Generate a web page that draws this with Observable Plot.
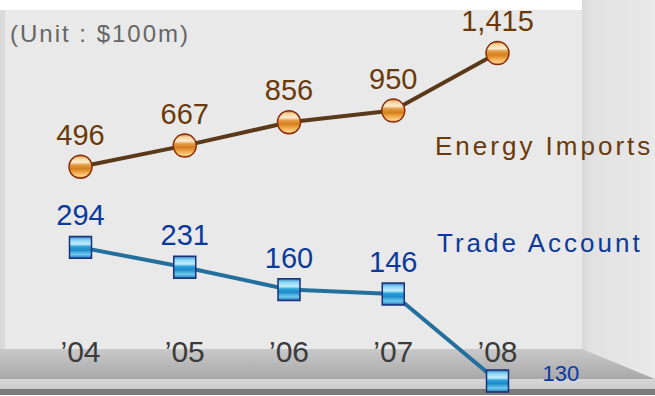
<!DOCTYPE html>
<html>
<head>
<meta charset="utf-8">
<script src="https://cdn.jsdelivr.net/npm/d3@7"></script>
<script src="https://cdn.jsdelivr.net/npm/@observablehq/plot@0.6"></script>
<style>
  body { margin: 0; background: #fff; }
  #chart { position: relative; width: 655px; height: 396px; overflow: hidden;
           font-family: "Liberation Sans", Arial, sans-serif; }
  #chart svg { position: absolute; left: 0; top: 0; }
  .lbl { position: absolute; white-space: nowrap; line-height: 1; }
</style>
</head>
<body>
<div id="chart"></div>
<script>
// ---- data ----
const years = [2004, 2005, 2006, 2007, 2008];
const yearLabels = ["’04", "’05", "’06", "’07", "’08"];
const energyImports = [496, 667, 856, 950, 1415];
const tradeAccount = [294, 231, 160, 146, -130];
const seriesNames = ["Energy Imports", "Trade Account"];
const unitLabel = "(Unit : $100m)";

const energyData = years.map((y, i) => ({year: y, value: energyImports[i]}));
const tradeData = years.map((y, i) => ({year: y, value: tradeAccount[i]}));

const W = 655, H = 396;
const chart = document.getElementById("chart");

// ---- decorative 3D box background + gradient defs ----
chart.innerHTML = `
<svg width="${W}" height="${H}" xmlns="http://www.w3.org/2000/svg">
  <defs>
    <linearGradient id="gOrange" x1="0" y1="0" x2="0" y2="1">
      <stop offset="0" stop-color="#c8701c"/>
      <stop offset="0.12" stop-color="#f6d29a"/>
      <stop offset="0.3" stop-color="#fcecd0"/>
      <stop offset="0.42" stop-color="#e59c45"/>
      <stop offset="0.58" stop-color="#d47e1e"/>
      <stop offset="0.78" stop-color="#f4b255"/>
      <stop offset="0.9" stop-color="#fbd08a"/>
      <stop offset="1" stop-color="#cf7820"/>
    </linearGradient>
    <linearGradient id="gBlue" x1="0" y1="0" x2="0" y2="1">
      <stop offset="0" stop-color="#2a78b8"/>
      <stop offset="0.15" stop-color="#86d2f2"/>
      <stop offset="0.35" stop-color="#c4eefc"/>
      <stop offset="0.47" stop-color="#2aa2da"/>
      <stop offset="0.62" stop-color="#1c8ac8"/>
      <stop offset="0.82" stop-color="#70caee"/>
      <stop offset="1" stop-color="#1a72b2"/>
    </linearGradient>
    <linearGradient id="gFloor" x1="0" y1="0" x2="0" y2="1">
      <stop offset="0" stop-color="#c9c9c9"/>
      <stop offset="1" stop-color="#a8a8a8"/>
    </linearGradient>
    <linearGradient id="gRight" x1="0" y1="0" x2="1" y2="0">
      <stop offset="0" stop-color="#d9d9d9"/>
      <stop offset="0.15" stop-color="#e2e2e2"/>
      <stop offset="1" stop-color="#e9e9e9"/>
    </linearGradient>
    <linearGradient id="gStrip" x1="0" y1="0" x2="0" y2="1">
      <stop offset="0" stop-color="#d6d6d6"/>
      <stop offset="1" stop-color="#cbcbcb"/>
    </linearGradient>
  </defs>
  <rect x="0" y="0" width="${W}" height="${H}" fill="#ffffff"/>
  <rect x="582" y="0" width="73" height="390" fill="url(#gRight)"/>
  <rect x="0" y="10" width="582" height="340" fill="#e9e9e9"/>
  <rect x="0" y="10" width="5" height="340" fill="#dadada"/>
  <polygon points="0,349 582,349 655,379 0,379" fill="url(#gFloor)"/>
  <rect x="0" y="379" width="${W}" height="10" fill="url(#gStrip)"/>
  <rect x="0" y="389" width="${W}" height="6" fill="#7b7b7b"/>
</svg>`;

const common = {
  width: W, height: H,
  marginLeft: 80, marginRight: 158, marginTop: 0, marginBottom: 0,
  x: {domain: [2004, 2008], axis: null},
  style: {background: "transparent", overflow: "visible",
          fontFamily: "'Liberation Sans', Arial, sans-serif"}
};

const fmt = d3.format(",");

// Energy imports layer (with year labels)
const energyPlot = Plot.plot({
  ...common,
  y: {domain: [-1361, 1840], axis: null},
  marks: [
    Plot.text(years, {x: d => d, text: (d, i) => yearLabels[i], frameAnchor: "bottom",
      lineAnchor: "bottom", dy: -35, fontSize: 30, fill: "#3b3b3b"}),
    Plot.line(energyData, {x: "year", y: "value", stroke: "#5b3a1a", strokeWidth: 4}),
    Plot.dot(energyData, {x: "year", y: "value", r: 11.5, fill: "url(#gOrange)",
      stroke: "#8a2c0a", strokeWidth: 1.5}),
    Plot.text(energyData, {x: "year", y: "value", text: d => fmt(d.value),
      lineAnchor: "bottom", dy: -22, fontSize: 29, fill: "#6a3a0a"})
  ]
});

// Trade account layer
const tradePlot = Plot.plot({
  ...common,
  y: {domain: [-179, 1077], axis: null},
  marks: [
    Plot.line(tradeData, {x: "year", y: "value", stroke: "#23709e", strokeWidth: 4}),
    Plot.dot(tradeData, {x: "year", y: "value", symbol: "square", r: 12.4,
      fill: "url(#gBlue)", stroke: "#1c2f7a", strokeWidth: 1.5}),
    Plot.text(tradeData.filter(d => d.value >= 0), {x: "year", y: "value",
      text: d => fmt(d.value), lineAnchor: "bottom", dy: -22, fontSize: 29, fill: "#0a3a9e"}),
    Plot.text(tradeData.filter(d => d.value < 0), {x: "year", y: "value",
      text: d => fmt(Math.abs(d.value)), textAnchor: "start", lineAnchor: "bottom",
      dx: 45, dy: 0, fontSize: 22, fill: "#0a3a9e"})
  ]
});

chart.appendChild(energyPlot);
chart.appendChild(tradePlot);

// series labels and unit note
function addLabel(text, left, top, size, color, spacing) {
  const d = document.createElement("div");
  d.className = "lbl";
  d.textContent = text;
  Object.assign(d.style, {left: left + "px", top: top + "px", fontSize: size + "px",
    color, letterSpacing: spacing + "px"});
  chart.appendChild(d);
}
addLabel(unitLabel, 10, 22, 24, "#666666", 2);
addLabel(seriesNames[0], 435, 133, 26, "#6a3a0a", 3);
addLabel(seriesNames[1], 437, 230, 26, "#0a3a9e", 3);
</script>
</body>
</html>
